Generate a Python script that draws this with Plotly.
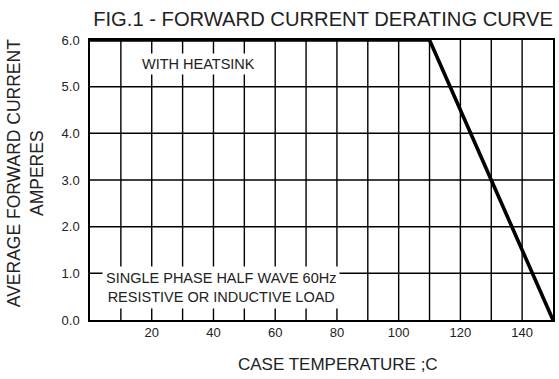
import plotly.graph_objects as go

# Derating curve: case temperature (°C) vs average forward current (A)
case_temp = [0, 110, 150]
fwd_current = [6.0, 6.0, 0.0]

x_labels = [20, 40, 60, 80, 100, 120, 140]
x_grid = [10, 20, 30, 40, 50, 60, 70, 80, 90, 100, 110, 120, 130, 140]
y_grid = [0, 1, 2, 3, 4, 5, 6]

FONT = "Liberation Sans, Arial, sans-serif"
INK = "#222222"
X_MIN, X_MAX = 0, 150
Y_MIN, Y_MAX = 0, 6

fig = go.Figure()

# chart grid drawn as line traces: vertical every 10 °C, horizontal every 1 A
vx, vy = [], []
for gx in x_grid:
    vx += [gx, gx, None]
    vy += [Y_MIN, Y_MAX, None]
hx, hy = [], []
for gy in y_grid[1:-1]:
    hx += [X_MIN, X_MAX, None]
    hy += [gy, gy, None]
fig.add_trace(go.Scatter(x=vx, y=vy, mode="lines", line=dict(color="black", width=1.4),
                         hoverinfo="skip", showlegend=False))
fig.add_trace(go.Scatter(x=hx, y=hy, mode="lines", line=dict(color="black", width=1.5),
                         hoverinfo="skip", showlegend=False))

fig.add_trace(go.Scatter(
    x=case_temp, y=fwd_current, mode="lines",
    line=dict(color="black", width=3.6),
    hoverinfo="skip", showlegend=False,
))

fig.add_annotation(
    x=35.3, y=5.49, xref="x", yref="y", text="WITH HEATSINK",
    showarrow=False, bgcolor="white", borderpad=2,
    font=dict(family=FONT, size=14.5, color=INK),
)
fig.add_annotation(
    x=42.4, y=0.70, xref="x", yref="y",
    text="SINGLE PHASE HALF WAVE 60Hz<br>RESISTIVE OR INDUCTIVE LOAD",
    showarrow=False, bgcolor="white", borderpad=3,
    font=dict(family=FONT, size=14.5, color=INK),
)

# axis titles
fig.add_annotation(
    x=0.536, y=-0.16, xref="paper", yref="paper",
    xanchor="center", yanchor="middle", showarrow=False,
    text="CASE TEMPERATURE ;C",
    font=dict(family=FONT, size=17, color=INK),
)
fig.add_annotation(
    x=-0.139, y=0.523, xref="paper", yref="paper",
    xanchor="center", yanchor="middle", showarrow=False, textangle=-90,
    text="AVERAGE FORWARD CURRENT<br>AMPERES",
    font=dict(family=FONT, size=17.5, color=INK),
)

fig.update_layout(
    template="none",
    width=559, height=379,
    margin=dict(l=90, r=6, t=40, b=59),
    paper_bgcolor="white", plot_bgcolor="white",
    font=dict(family=FONT, color=INK),
    title=dict(
        text="FIG.1 - FORWARD CURRENT DERATING CURVE",
        x=1.0, xanchor="right", xref="paper",
        y=0.97, yanchor="top",
        font=dict(family=FONT, size=20.2, color=INK),
    ),
    xaxis=dict(
        range=[X_MIN, X_MAX], tickmode="array", tickvals=x_labels,
        ticktext=[str(v) for v in x_labels],
        showgrid=False,
        showline=True, linecolor="black", linewidth=1.5, mirror=True,
        ticks="", zeroline=False,
        tickfont=dict(family=FONT, size=13, color=INK),
    ),
    yaxis=dict(
        range=[Y_MIN, Y_MAX], tickmode="array", tickvals=y_grid,
        ticktext=[f"{v:.1f}" for v in y_grid],
        showgrid=False,
        showline=True, linecolor="black", linewidth=1.5, mirror=True,
        ticks="", zeroline=False, ticklabelstandoff=6,
        tickfont=dict(family=FONT, size=13, color=INK),
    ),
)

fig.write_html("out.html")
